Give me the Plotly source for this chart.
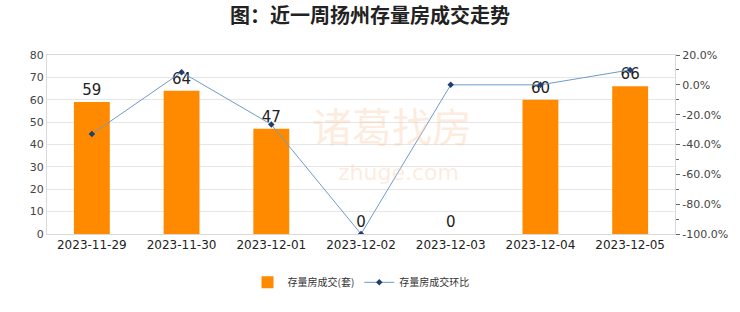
import plotly.graph_objects as go

dates = ["2023-11-29", "2023-11-30", "2023-12-01", "2023-12-02", "2023-12-03", "2023-12-04", "2023-12-05"]
volume = [59, 64, 47, 0, 0, 60, 66]
mom_pct = [-33.0, 8.5, -26.6, -100.0, 0.0, 0.0, 10.0]
right_ticks = [20, 0, -20, -40, -60, -80, -100]
right_labels = ["20.0%", "0.0%", "-20.0%", "-40.0%", "-60.0%", "-80.0%", "-100.0%"]

font_cjk = "Noto Sans CJK SC"

fig = go.Figure()
fig.add_trace(go.Bar(
    x=dates, y=volume, name="存量房成交(套)",
    marker=dict(color="#FF8A00", line=dict(width=0)),
    width=0.4,
    text=[str(v) for v in volume], textposition="outside",
    textfont=dict(size=15, color="#222222", family="DejaVu Sans"),
    cliponaxis=False,
))
fig.add_trace(go.Scatter(
    x=dates, y=mom_pct, name="存量房成交环比", yaxis="y2",
    mode="lines+markers",
    line=dict(color="#6E9BCB", width=1),
    marker=dict(symbol="diamond", size=5, color="#1F3F6E"),
))

# faint watermark
fig.add_annotation(text="诸葛找房", x=0.55, y=0.61, xref="paper", yref="paper",
                   showarrow=False, font=dict(size=40, color="rgba(250,200,160,0.35)", family=font_cjk))
fig.add_annotation(text="zhuge.com", x=0.56, y=0.26, xref="paper", yref="paper",
                   showarrow=False, font=dict(size=22, color="rgba(250,200,160,0.35)", family="DejaVu Sans"))

fig.update_layout(
    width=740, height=312,
    margin=dict(l=47, r=62, t=55, b=78),
    paper_bgcolor="white", plot_bgcolor="white",
    title=dict(text="<b>图：近一周扬州存量房成交走势</b>", x=0.5, xanchor="center", y=0.95, yanchor="middle",
               font=dict(size=20, color="#222222", family=font_cjk)),
    font=dict(family=font_cjk, color="#333333", size=11),
    showlegend=True,
    legend=dict(orientation="h", x=0.5, xanchor="center", y=-0.27, yanchor="middle",
                font=dict(size=10, color="#333333", family=font_cjk), itemwidth=30),
    bargap=0.6,
    xaxis=dict(type="category", showgrid=False, showline=True, linecolor="#D9D9D9", mirror=True,
               ticks="", tickfont=dict(size=12, color="#222222", family="DejaVu Sans")),
    yaxis=dict(range=[0, 80], dtick=10, showgrid=True, gridcolor="#E6E6E6", gridwidth=1,
               showline=True, linecolor="#D9D9D9", mirror=True, zeroline=False,
               ticks="", tickfont=dict(size=11, color="#444444", family="DejaVu Sans")),
    yaxis2=dict(range=[-100, 20], overlaying="y", side="right", tickvals=right_ticks, ticktext=right_labels,
                showgrid=False, zeroline=False, ticks="outside", ticklen=4, tickcolor="#666666",
                minor=dict(dtick=10, ticks="outside", ticklen=3, tickcolor="#666666"),
                tickfont=dict(size=11, color="#444444", family="DejaVu Sans")),
)

fig.write_html("out.html")
